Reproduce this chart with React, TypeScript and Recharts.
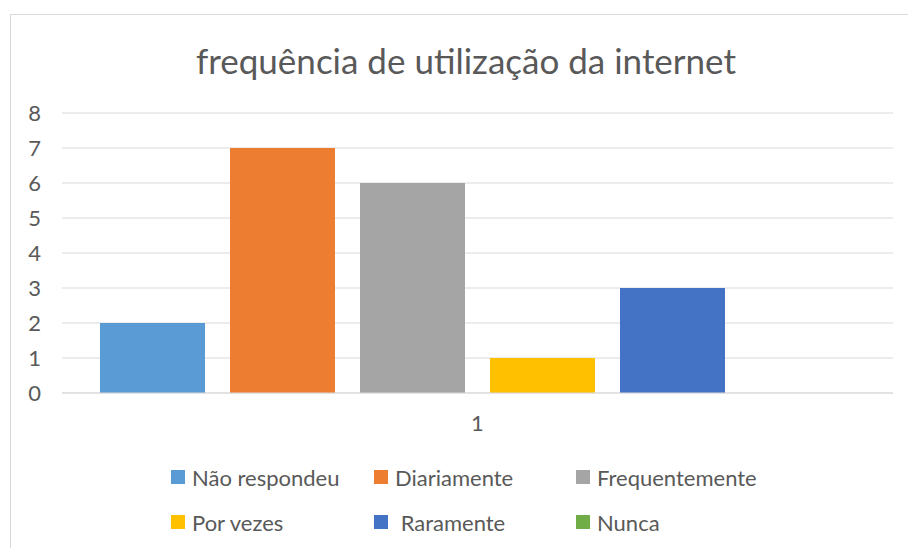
import React from 'react';
import { BarChart, Bar, XAxis, YAxis, CartesianGrid } from 'recharts';

const categories = ['1'];
const seriesNames = ['Não respondeu', 'Diariamente', 'Frequentemente', 'Por vezes', 'Raramente', 'Nunca'];
const seriesValues = [2, 7, 6, 1, 3, 0];
const seriesColors = ['#5B9BD5', '#ED7D31', '#A5A5A5', '#FFC000', '#4472C4', '#70AD47'];
const yTicks = [0, 1, 2, 3, 4, 5, 6, 7, 8];

const FONT = 'Lato, "Open Sans", sans-serif';
const TEXT = '#595959';

const data = categories.map((name) => {
  const row: Record<string, string | number> = { name };
  seriesNames.forEach((s, i) => {
    row[s] = seriesValues[i];
  });
  return row;
});

// legend laid out in two rows, three columns, like the Excel original
const legendCols = [171, 374, 576];
const legendRows = [477, 522];

const App: React.FC = () => {
  return (
    <div style={{ position: 'absolute', left: 0, top: 0, width: 908, height: 548, overflow: 'hidden', background: '#fff', fontFamily: FONT }}>
      <div style={{ position: 'absolute', left: 10, top: 14, width: 920, height: 560, border: '1px solid #D9D9D9', boxSizing: 'border-box' }} />
      <div style={{ position: 'absolute', left: 0, top: 39, width: 932, textAlign: 'center', fontSize: 35, lineHeight: '42px', color: TEXT }}>
        frequência de utilização da internet
      </div>
      <div style={{ position: 'absolute', left: 0, top: 0 }}>
        <BarChart
          width={908}
          height={548}
          data={data}
          margin={{ top: 113, right: 15, bottom: 95, left: 0 }}
          barCategoryGap={38}
          barGap={25}
        >
          <CartesianGrid vertical={false} stroke="#D9D9D9" strokeWidth={1} />
          <XAxis
            dataKey="name"
            axisLine={{ stroke: '#D9D9D9' }}
            tickLine={false}
            tick={{ fill: TEXT, fontSize: 22, fontFamily: FONT }}
            tickMargin={16}
            height={60}
          />
          <YAxis
            width={62}
            domain={[0, 8]}
            ticks={yTicks}
            interval={0}
            axisLine={false}
            tickLine={false}
            tickSize={0}
            tickMargin={21}
            tick={{ fill: TEXT, fontSize: 22, fontFamily: FONT }}
          />
          {seriesNames.map((s, i) => (
            <Bar key={s} dataKey={s} fill={seriesColors[i]} isAnimationActive={false} />
          ))}
        </BarChart>
      </div>
      {seriesNames.map((s, i) => {
        const x = legendCols[i % 3];
        const y = legendRows[Math.floor(i / 3)];
        return (
          <div key={s} style={{ position: 'absolute', left: x, top: y - 13, height: 26, display: 'flex', alignItems: 'center', fontSize: 22, color: TEXT }}>
            <span style={{ width: 14, height: 14, background: seriesColors[i], marginRight: 7, display: 'inline-block' }} />
            <span style={{ whiteSpace: 'pre' }}>{s === 'Raramente' ? ' ' + s : s}</span>
          </div>
        );
      })}
    </div>
  );
};

export default App;
